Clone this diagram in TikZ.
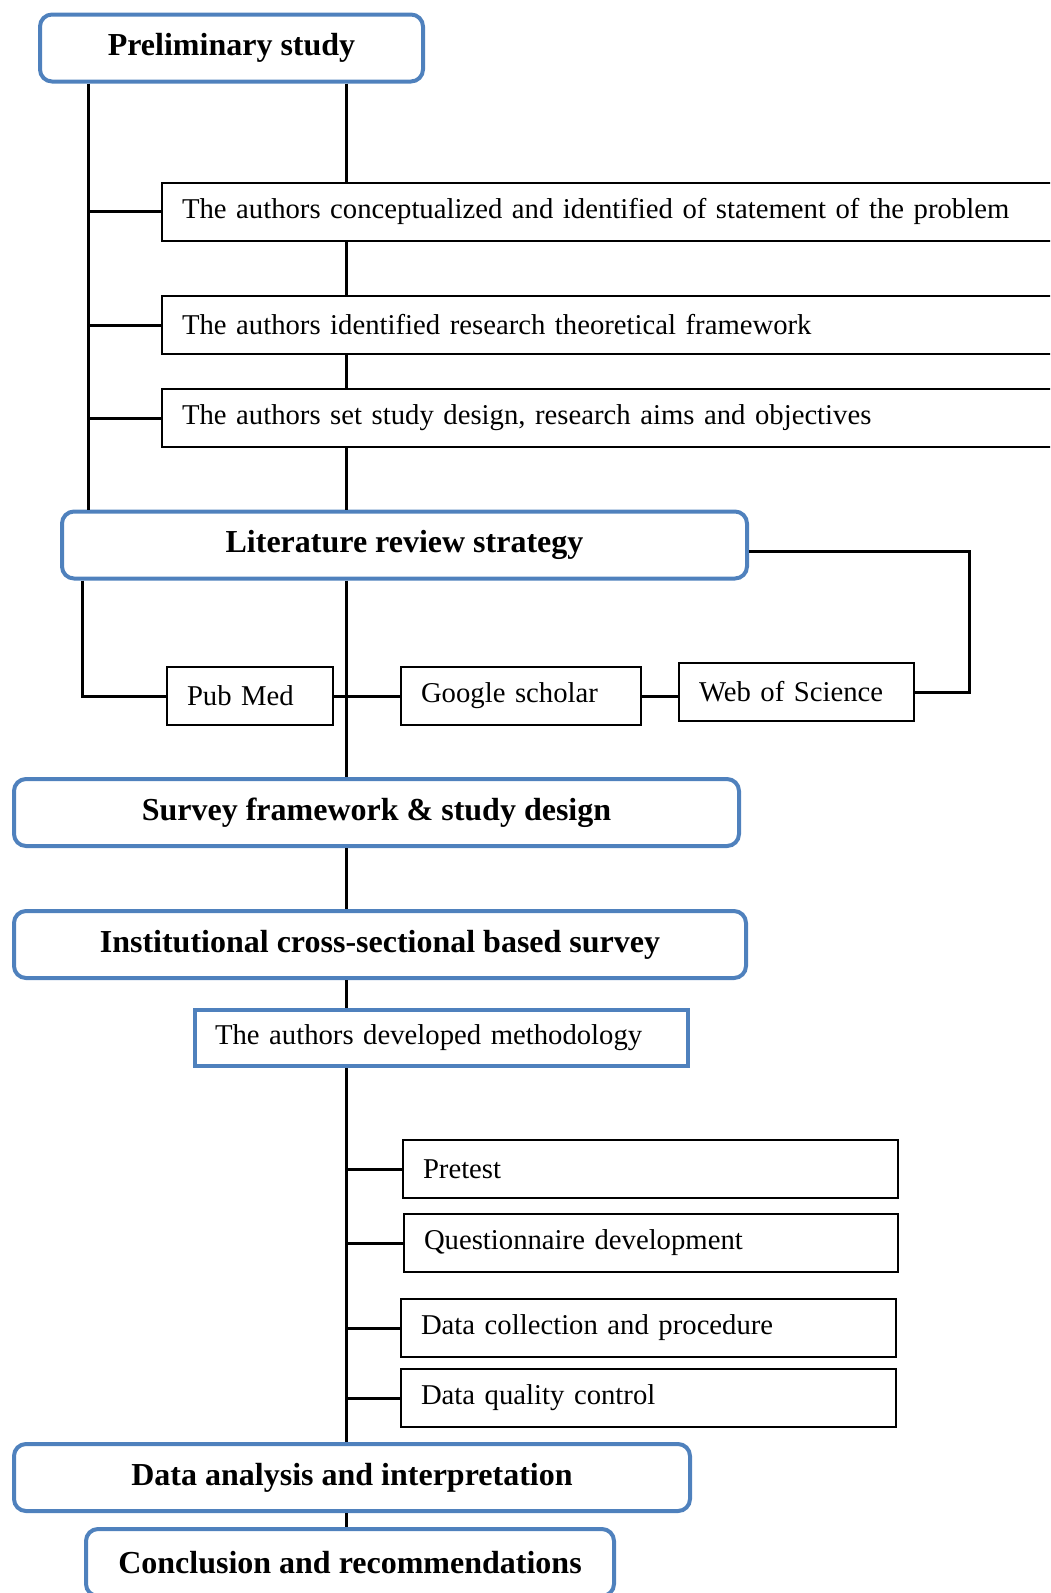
\documentclass[tikz,border=0pt]{standalone}
\usepackage{fontspec}
\setmainfont{Liberation Serif}
\definecolor{boxblue}{HTML}{4F81BD}

\begin{document}
\begin{tikzpicture}[x=1pt,y=-1pt]

      \clip (0,0) rectangle (1050,1593);

      \coordinate (L1) at (88,0);
      \coordinate (L2) at (82,0);
      \coordinate (M)  at (346,0);
      \coordinate (R)  at (969,551);

      % main stages
      \begin{scope}[every node/.style={draw=boxblue,line width=4pt,rounded corners=12pt,minimum height=67pt,font=\fontsize{32}{38}\selectfont\bfseries}]
        \node[minimum width=383pt] (prelim)   at (231.5,48)    {Preliminary study};
        \node[minimum width=685pt] (lit)      at (404.5,545)   {Literature review strategy};
        \node[minimum width=725pt] (survey)   at (376.5,812.5) {Survey framework \& study design};
        \node[minimum width=732pt] (inst)     at (380,944.5)   {Institutional cross-sectional based survey};
        \node[minimum width=676pt] (analysis) at (352,1477.5)  {Data analysis and interpretation};
        \node[minimum width=528pt] (concl)    at (350,1562.5)  {Conclusion and recommendations};
        \node[rounded corners=0pt,minimum width=493pt,minimum height=56pt,inner xsep=20pt,
              text width=453pt,align=left,font=\fontsize{28.7}{34}\selectfont] (meth) at (441.5,1038) {The authors developed methodology};
      \end{scope}

      % steps
      \begin{scope}[every node/.style={draw,line width=2pt,minimum height=58pt,inner xsep=20pt,align=left,font=\fontsize{28.7}{34}\selectfont}]
        \node[text width=918pt] (b1) at (641,211.5) {The authors conceptualized and identified of statement of the problem};
        \node[text width=918pt] (b2) at (641,325)   {The authors identified research theoretical framework};
        \node[text width=918pt] (b3) at (641,418)   {The authors set study design, research aims and objectives};
        \node[text width=126pt] (pub)    at (250,696)   {Pub Med};
        \node[text width=200pt] (google) at (521,696)   {Google scholar};
        \node[text width=195pt] (wos)    at (796.5,692) {Web of Science};
        \node[text width=455pt] (pre)    at (650.5,1169) {Pretest};
        \node[text width=454pt] (quest)  at (651,1243)   {Questionnaire development};
        \node[text width=455pt] (coll)   at (648.5,1328) {Data collection and procedure};
        \node[text width=455pt] (qual)   at (648.5,1398) {Data quality control};
      \end{scope}

      \begin{scope}[line width=3pt,every edge/.style={draw}]
        \path (prelim.south -| L1) edge (lit.north -| L1);
        \path (b1.west -| L1) edge (b1.west);
        \path (b2.west -| L1) edge (b2.west);
        \path (b3.west -| L1) edge (b3.west);

        \path (prelim.south -| M) edge (b1.north -| M);
        \path (b1.south -| M) edge (b2.north -| M);
        \path (b2.south -| M) edge (b3.north -| M);
        \path (b3.south -| M) edge (lit.north -| M);

        \draw (lit.south -| L2) |- (pub.west);
        \path (pub.east) edge (google.west);
        \path (google.east) edge (google.east -| wos.west);
        \draw (lit.east |- R) -- (R) |- (wos.east);

        \path (lit.south -| M) edge (survey.north -| M);
        \path (survey.south -| M) edge (inst.north -| M);
        \path (inst.south -| M) edge (meth.north -| M);
        \path (meth.south -| M) edge (analysis.north -| M);
        \path (analysis.south -| M) edge (concl.north -| M);

        \path (pre.west -| M) edge (pre.west);
        \path (quest.west -| M) edge (quest.west);
        \path (coll.west -| M) edge (coll.west);
        \path (qual.west -| M) edge (qual.west);
      \end{scope}

    \end{tikzpicture}
\end{document}
